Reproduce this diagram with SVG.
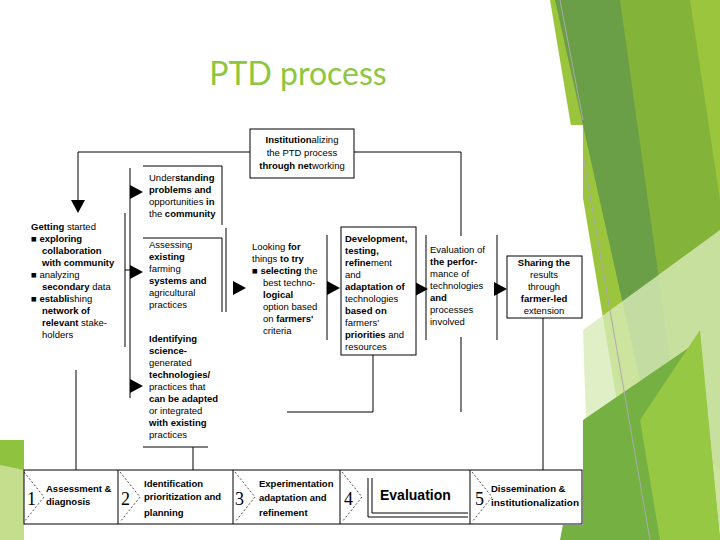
<svg xmlns="http://www.w3.org/2000/svg" width="720" height="540" viewBox="0 0 720 540">
<style>
.t{font-family:"Liberation Sans",Arial,sans-serif;font-size:9.5px;fill:#000}
.b{font-weight:bold}
.ln{stroke:#000;stroke-width:1;fill:none}
.box{stroke:#000;stroke-width:1;fill:#fff}
.s{font-family:"Liberation Sans",Arial,sans-serif;font-size:9.5px;font-weight:bold;fill:#000}
.n{font-family:"Liberation Serif",serif;font-size:18px;fill:#000}
</style>
<defs>
<polygon id="ar" points="0,-7 13,0 0,7" fill="#000"/>
</defs>
<rect width="720" height="540" fill="#fff"/>
<g id="bg">
<polygon points="550,0 720,0 720,540 640,540" fill="#9BC53D"/>
<polygon points="555,0 635,0 700,420 660,470" fill="#6A9E47"/>
<polygon points="620,0 690,0 720,200 720,470 680,430" fill="#84B33A"/>
<polygon points="583,330 720,230 720,540 590,540" fill="#D9EBB8" opacity="0.8"/>
<polygon points="583,420 700,340 720,540 560,540" fill="#74B042"/>
<polygon points="640,420 700,330 720,540 660,540" fill="#97C844"/>
<polyline points="560,0 583,120" stroke="#aaa" fill="none"/>
<polyline points="583,155 650,540" stroke="#aaa" fill="none"/>
<polygon points="0,440 24,440 24,540 0,540" fill="#8FC33F"/>
<polygon points="0,465 24,470 24,540 0,540" fill="#C5DE8E"/>
</g>
<text x="298" y="85" text-anchor="middle" font-family="Lato,'Open Sans',sans-serif" font-size="32" fill="#8DC63F">PTD process</text>
<rect x="24" y="125" width="559" height="400" fill="#fff"/>
<g id="connectors">
<polyline class="ln" points="250,152 78,152 78,200"/>
<use href="#ar" transform="translate(78,200) rotate(90)"/>
<polyline class="ln" points="354,152 461,152 461,236"/>
<line class="ln" x1="125" y1="213" x2="125" y2="347"/>
<line class="ln" x1="125" y1="270" x2="131" y2="270"/>
<line class="ln" x1="130" y1="168" x2="130" y2="398"/>
<use href="#ar" x="130" y="192"/>
<use href="#ar" x="130" y="272"/>
<use href="#ar" x="130" y="386"/>
<polyline class="ln" points="143,166 222,166 222,225"/>
<polyline class="ln" points="143,238 222,238 222,312"/>
<line class="ln" x1="226" y1="228" x2="226" y2="312"/>
<use href="#ar" x="233" y="288"/>
<line class="ln" x1="327" y1="235" x2="327" y2="340"/>
<use href="#ar" x="327" y="288"/>
<line class="ln" x1="426" y1="235" x2="426" y2="340"/>
<use href="#ar" x="415" y="289"/>
<line class="ln" x1="497" y1="235" x2="497" y2="340"/>
<use href="#ar" x="494" y="289"/>
<polyline class="ln" points="373,355 373,412 287,412"/>
<line class="ln" x1="461" y1="337" x2="461" y2="412"/>
<line class="ln" x1="543" y1="318" x2="543" y2="470"/>
<line class="ln" x1="76" y1="370" x2="76" y2="470"/>
<polyline class="ln" points="143,447 208,447"/>
<line class="ln" x1="193" y1="447" x2="193" y2="470"/>
</g>
<g id="inst"><rect class="box" x="250" y="129" width="104" height="49"/>
<text class="t" text-anchor="middle"><tspan x="302" y="143"><tspan class="b">Institution</tspan>alizing</tspan><tspan x="302" y="156">the PTD process</tspan><tspan x="302" y="169"><tspan class="b">through net</tspan>working</tspan></text></g>
<g id="getting"><text class="t"><tspan x="31" y="230"><tspan class="b">Getting</tspan> started</tspan>
<tspan x="31" y="242">■ <tspan class="b">exploring</tspan></tspan><tspan x="42" y="254"><tspan class="b">collaboration</tspan></tspan><tspan x="42" y="266" class="b">with community</tspan>
<tspan x="31" y="278">■ analyzing</tspan><tspan x="42" y="290"><tspan class="b">secondary</tspan> data</tspan>
<tspan x="31" y="302">■ <tspan class="b">establi</tspan>shing</tspan><tspan x="42" y="314" class="b">network of</tspan><tspan x="42" y="326"><tspan class="b">relevant</tspan> stake-</tspan><tspan x="42" y="338">holders</tspan></text></g>
<g id="understanding"><text class="t"><tspan x="149" y="181">Under<tspan class="b">standing</tspan></tspan><tspan x="149" y="193"><tspan class="b">problems and</tspan></tspan><tspan x="149" y="205">opportunities <tspan class="b">in</tspan></tspan><tspan x="149" y="217">the <tspan class="b">community</tspan></tspan></text></g>
<g id="assessing"><text class="t"><tspan x="149" y="248">Assessing</tspan><tspan x="149" y="260" class="b">existing</tspan><tspan x="149" y="272">farming</tspan><tspan x="149" y="284" class="b">systems and</tspan><tspan x="149" y="296">agricultural</tspan><tspan x="149" y="308">practices</tspan></text></g>
<g id="identifying"><text class="t"><tspan x="149" y="342" class="b">Identifying</tspan><tspan x="149" y="354" class="b">science-</tspan><tspan x="149" y="366">generated</tspan><tspan x="149" y="378" class="b">technologies/</tspan><tspan x="149" y="390">practices that</tspan><tspan x="149" y="402" class="b">can be adapted</tspan><tspan x="149" y="414">or integrated</tspan><tspan x="149" y="426" class="b">with existing</tspan><tspan x="149" y="438">practices</tspan></text></g>
<g id="looking"><text class="t"><tspan x="252" y="250">Looking <tspan class="b">for</tspan></tspan><tspan x="252" y="262">things <tspan class="b">to try</tspan></tspan><tspan x="252" y="274">■ <tspan class="b">selecting</tspan> the</tspan><tspan x="263" y="286">best techno-</tspan><tspan x="263" y="298" class="b">logical</tspan><tspan x="263" y="310">option based</tspan><tspan x="263" y="322">on <tspan class="b">farmers'</tspan></tspan><tspan x="263" y="334">criteria</tspan></text></g>
<g id="development"><rect class="box" x="341" y="227" width="75" height="128"/>
<text class="t"><tspan x="345" y="242" class="b">Development,</tspan><tspan x="345" y="254" class="b">testing,</tspan><tspan x="345" y="266"><tspan class="b">refine</tspan>ment</tspan><tspan x="345" y="278">and</tspan><tspan x="345" y="290"><tspan class="b">adaptation of</tspan></tspan><tspan x="345" y="302">technologies</tspan><tspan x="345" y="314" class="b">based on</tspan><tspan x="345" y="326">farmers'</tspan><tspan x="345" y="338"><tspan class="b">priorities</tspan> and</tspan><tspan x="345" y="350">resources</tspan></text></g>
<g id="evaluation"><text class="t"><tspan x="430" y="253">Evaluation of</tspan><tspan x="430" y="265" class="b">the perfor-</tspan><tspan x="430" y="277">mance of</tspan><tspan x="430" y="289">technologies</tspan><tspan x="430" y="301" class="b">and</tspan><tspan x="430" y="313">processes</tspan><tspan x="430" y="325">involved</tspan></text></g>
<g id="sharing"><rect class="box" x="507" y="256" width="75" height="62"/>
<text class="t" text-anchor="middle"><tspan x="544" y="266" class="b">Sharing the</tspan><tspan x="544" y="278">results</tspan><tspan x="544" y="290">through</tspan><tspan x="544" y="302" class="b">farmer-led</tspan><tspan x="544" y="314">extension</tspan></text></g>
<g id="steps">
<rect class="box" x="24" y="470" width="558" height="54"/>
<g class="ln">
<line x1="118" y1="470" x2="118" y2="524"/><line x1="233" y1="470" x2="233" y2="524"/><line x1="340" y1="470" x2="340" y2="524"/><line x1="470" y1="470" x2="470" y2="524"/>
</g>
<g stroke="#000" stroke-dasharray="2,2" fill="none" stroke-width="0.7">
<polyline points="24,472 44,497 24,522"/><polyline points="120,472 140,497 120,522"/><polyline points="235,472 255,497 235,522"/><polyline points="342,472 362,497 342,522"/><polyline points="472,472 492,497 472,522"/>
</g>
<text class="n" x="27" y="505">1</text><text class="n" x="121" y="505">2</text><text class="n" x="235" y="505">3</text><text class="n" x="344" y="505">4</text><text class="n" x="475" y="505">5</text>
<text class="s"><tspan x="46" y="492">Assessment &amp;</tspan><tspan x="46" y="505">diagnosis</tspan></text>
<text class="s"><tspan x="144" y="487">Identification</tspan><tspan x="144" y="500">prioritization and</tspan><tspan x="144" y="516">planning</tspan></text>
<text class="s"><tspan x="259" y="487">Experimentation</tspan><tspan x="259" y="501">adaptation and</tspan><tspan x="259" y="516">refinement</tspan></text>
<polyline points="368,478 368,517 468,517" stroke="#000" fill="none"/>
<polyline points="372,478 372,513 468,513" stroke="#000" fill="none"/>
<text x="380" y="500" font-family="Liberation Sans,Arial,sans-serif" font-size="14" font-weight="bold">Evaluation</text>
<text class="s"><tspan x="491" y="492">Dissemination &amp;</tspan><tspan x="491" y="506" textLength="88" lengthAdjust="spacingAndGlyphs">institutionalization</tspan></text>
</g>
</svg>
